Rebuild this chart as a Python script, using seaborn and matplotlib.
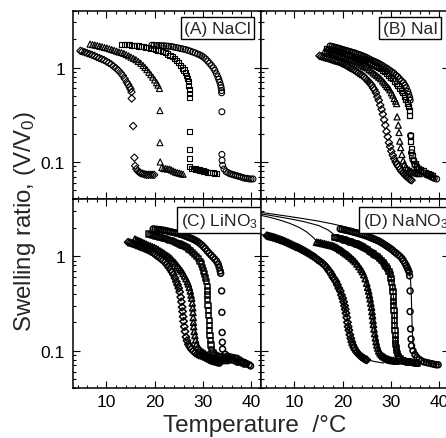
import matplotlib
matplotlib.use("Agg")
import numpy as np
import matplotlib.pyplot as plt
import seaborn as sns
from matplotlib.ticker import (FixedLocator, MultipleLocator, LogLocator,
                               FuncFormatter, NullFormatter)

# ---------------- (A) NaCl ----------------
nacl_dia_T = [4.6, 5.0, 5.5, 6.0, 6.5, 7.0, 7.5, 8.0, 8.5, 9.0, 9.5, 10.0, 10.5, 11.0, 11.5,
              12.0, 12.5, 13.0, 13.4, 13.8, 14.2, 14.5, 14.8, 15.0, 15.2,
              15.25, 15.55, 15.8, 15.95, 16.2, 16.5, 16.8, 17.1, 17.5, 17.9, 18.3, 18.7,
              19.1, 19.5, 19.9]
nacl_dia_V = [1.50, 1.48, 1.45, 1.42, 1.39, 1.36, 1.33, 1.29, 1.26, 1.23, 1.20, 1.16, 1.12, 1.08, 1.03,
              0.98, 0.93, 0.87, 0.82, 0.76, 0.70, 0.66, 0.62, 0.59, 0.55,
              0.47, 0.24, 0.111, 0.091, 0.084, 0.080, 0.078, 0.076, 0.075, 0.074, 0.073, 0.073,
              0.073, 0.073, 0.073]

nacl_tri_T = [6.6, 7.1, 7.6, 8.1, 8.6, 9.1, 9.6, 10.1, 10.6, 11.1, 11.6, 12.1, 12.6, 13.1, 13.6,
              14.1, 14.6, 15.1, 15.6, 16.1, 16.6, 17.1, 17.6, 18.0, 18.4, 18.8, 19.2, 19.6,
              20.0, 20.4, 20.7, 21.0,
              21.1, 21.1, 21.15, 21.5, 21.9, 22.3, 22.7, 23.1, 23.5, 23.9, 24.3, 24.7, 25.1,
              25.5, 25.9]
nacl_tri_V = [1.77, 1.75, 1.73, 1.71, 1.68, 1.66, 1.63, 1.61, 1.58, 1.55, 1.52, 1.49, 1.46, 1.44, 1.41,
              1.37, 1.33, 1.29, 1.25, 1.21, 1.16, 1.11, 1.05, 1.00, 0.95, 0.89, 0.84, 0.79,
              0.74, 0.69, 0.65, 0.60,
              0.35, 0.16, 0.10, 0.087, 0.085, 0.085, 0.084, 0.084, 0.082, 0.080, 0.078, 0.077, 0.076,
              0.075, 0.074]

nacl_sq_T = [13.2, 13.7, 14.2, 14.7, 15.2, 15.7, 16.2, 16.7, 17.2, 17.7, 18.2, 18.7, 19.2, 19.7,
             20.2, 20.7, 21.2, 21.7, 22.2, 22.7, 23.2, 23.7, 24.2, 24.6, 25.0, 25.4, 25.8, 26.1,
             26.4, 26.6, 26.8, 27.0, 27.1, 27.15, 27.2, 27.2,
             27.25, 27.25, 27.25, 27.3, 27.7, 28.1, 28.5, 28.9, 29.3, 29.7, 30.1, 30.5, 30.9,
             31.3, 31.7, 32.1, 32.5, 32.9]
nacl_sq_V = [1.77, 1.76, 1.75, 1.74, 1.72, 1.71, 1.70, 1.69, 1.68, 1.66, 1.64, 1.62, 1.60, 1.58,
             1.56, 1.53, 1.50, 1.47, 1.43, 1.39, 1.35, 1.30, 1.24, 1.18, 1.13, 1.06, 0.99, 0.94,
             0.88, 0.83, 0.77, 0.71, 0.65, 0.59, 0.53, 0.48,
             0.21, 0.136, 0.109, 0.090, 0.086, 0.085, 0.084, 0.083, 0.082, 0.081, 0.080, 0.079, 0.078,
             0.078, 0.077, 0.077, 0.076, 0.076]

nacl_ci_T = [19.4, 19.9, 20.4, 20.9, 21.4, 21.9, 22.4, 22.9, 23.4, 23.9, 24.4, 24.9, 25.4, 25.9,
             26.4, 26.9, 27.4, 27.9, 28.4, 28.9, 29.4, 29.8, 30.2, 30.6, 31.0, 31.4, 31.8, 32.2,
             32.5, 32.8, 33.1, 33.3, 33.5, 33.7, 33.8, 33.9, 33.9,
             33.95, 33.95, 34.0, 34.1, 34.4, 34.8, 35.2, 35.6, 36.0, 36.4, 36.8, 37.2, 37.6,
             38.0, 38.4, 38.8, 39.2, 39.6, 40.0, 40.4]
nacl_ci_V = [1.72, 1.72, 1.71, 1.71, 1.70, 1.70, 1.69, 1.68, 1.67, 1.65, 1.63, 1.61, 1.59, 1.57,
             1.55, 1.52, 1.49, 1.46, 1.43, 1.39, 1.36, 1.32, 1.28, 1.23, 1.17, 1.11, 1.05, 0.99,
             0.93, 0.86, 0.80, 0.75, 0.70, 0.65, 0.61, 0.57, 0.54,
             0.34, 0.12, 0.104, 0.092, 0.084, 0.079, 0.077, 0.075, 0.074, 0.073, 0.072, 0.071, 0.070,
             0.069, 0.068, 0.067, 0.067, 0.066, 0.066, 0.066]

# ---------------- (B) NaI ----------------
nai_dia_T = [15.2, 15.6, 16.0, 16.4, 16.8, 17.2, 17.6, 18.0, 18.4, 18.8, 19.2, 19.6, 20.0, 20.4,
             20.8, 21.2, 21.6, 22.0, 22.4, 22.8, 23.2, 23.6, 24.0, 24.4, 24.8, 25.1, 25.4, 25.7,
             26.0, 26.3, 26.6, 26.9, 27.2, 27.5, 27.8, 28.1, 28.35, 28.6, 28.85, 29.1, 29.35,
             29.6, 29.85, 30.1, 30.4, 30.7, 31.0, 31.3, 31.6, 31.9, 32.2, 32.5, 32.8, 33.1,
             33.4, 33.7, 34.0, 34.3]
nai_dia_V = [1.33, 1.31, 1.29, 1.27, 1.26, 1.24, 1.22, 1.20, 1.18, 1.17, 1.15, 1.13, 1.10, 1.08,
             1.05, 1.02, 0.99, 0.97, 0.94, 0.91, 0.88, 0.85, 0.83, 0.80, 0.76, 0.73, 0.71, 0.68,
             0.65, 0.61, 0.58, 0.54, 0.49, 0.45, 0.40, 0.36, 0.32, 0.28, 0.245, 0.21, 0.185,
             0.16, 0.145, 0.13, 0.118, 0.108, 0.100, 0.094, 0.089, 0.084, 0.080, 0.077, 0.074, 0.071,
             0.069, 0.067, 0.065, 0.064]

nai_tri_T = [16.3, 16.7, 17.1, 17.5, 17.9, 18.3, 18.7, 19.1, 19.5, 19.9, 20.3, 20.7, 21.1, 21.5,
             21.9, 22.3, 22.7, 23.1, 23.5, 23.9, 24.3, 24.7, 25.1, 25.5, 25.9, 26.3, 26.7, 27.1,
             27.5, 27.9, 28.3, 28.6, 28.9, 29.2, 29.5, 29.8, 30.1, 30.4, 30.7, 31.0, 31.2,
             31.3, 31.55, 31.7, 31.85, 32.05, 32.3, 32.55, 32.8, 33.1, 33.4, 33.8, 34.2, 34.6,
             35.0, 35.4, 35.8]
nai_tri_V = [1.50, 1.48, 1.46, 1.44, 1.42, 1.40, 1.37, 1.35, 1.33, 1.31, 1.29, 1.27, 1.25, 1.23,
             1.20, 1.18, 1.15, 1.12, 1.09, 1.06, 1.03, 1.01, 0.99, 0.95, 0.92, 0.88, 0.85, 0.82,
             0.79, 0.76, 0.72, 0.69, 0.66, 0.63, 0.61, 0.58, 0.54, 0.51, 0.47, 0.44, 0.415,
             0.30, 0.245, 0.205, 0.166, 0.142, 0.120, 0.103, 0.094, 0.088, 0.085, 0.082, 0.080, 0.078,
             0.077, 0.076, 0.075]

nai_sq_T = [16.7, 17.1, 17.5, 17.9, 18.3, 18.7, 19.1, 19.5, 19.9, 20.3, 20.7, 21.1, 21.5, 21.9,
            22.3, 22.7, 23.1, 23.5, 23.9, 24.3, 24.7, 25.1, 25.5, 25.9, 26.3, 26.7, 27.1, 27.5,
            27.9, 28.3, 28.7, 29.1, 29.5, 29.9, 30.3, 30.7, 31.1, 31.5, 31.9, 32.2, 32.5, 32.8,
            33.1, 33.4, 33.6, 33.8, 33.9,
            34.0, 34.1, 34.3, 34.4, 34.7, 35.0, 35.4, 35.8, 36.2, 36.7, 37.2, 37.7, 38.2, 38.7]
nai_sq_V = [1.60, 1.58, 1.56, 1.54, 1.52, 1.50, 1.48, 1.46, 1.44, 1.42, 1.40, 1.38, 1.36, 1.34,
            1.32, 1.30, 1.28, 1.25, 1.23, 1.20, 1.18, 1.15, 1.13, 1.10, 1.08, 1.06, 1.03, 1.00,
            0.97, 0.94, 0.90, 0.86, 0.83, 0.79, 0.76, 0.72, 0.68, 0.64, 0.60, 0.57, 0.54, 0.50,
            0.46, 0.42, 0.39, 0.35, 0.31,
            0.19, 0.165, 0.137, 0.116, 0.104, 0.096, 0.090, 0.085, 0.082, 0.080, 0.077, 0.075, 0.073, 0.071]

nai_ci_T = [17.4, 17.8, 18.2, 18.6, 19.0, 19.4, 19.8, 20.2, 20.6, 21.0, 21.4, 21.8, 22.2, 22.6,
            23.0, 23.4, 23.8, 24.2, 24.6, 25.0, 25.4, 25.8, 26.2, 26.6, 27.0, 27.4, 27.8, 28.2,
            28.6, 29.0, 29.4, 29.8, 30.2, 30.6, 31.0, 31.4, 31.8, 32.2, 32.6, 32.9, 33.2, 33.5,
            33.7, 33.9, 34.0,
            34.1, 34.3, 34.6, 35.0, 35.6, 36.2, 36.8, 37.4, 38.0, 38.5, 39.0, 39.5]
nai_ci_V = [1.69, 1.67, 1.65, 1.63, 1.61, 1.59, 1.56, 1.54, 1.52, 1.50, 1.48, 1.46, 1.44, 1.42,
            1.39, 1.37, 1.35, 1.32, 1.30, 1.27, 1.24, 1.21, 1.18, 1.16, 1.13, 1.11, 1.08, 1.05,
            1.02, 0.99, 0.96, 0.93, 0.90, 0.87, 0.83, 0.80, 0.76, 0.72, 0.69, 0.65, 0.61, 0.56,
            0.52, 0.48, 0.45,
            0.19, 0.125, 0.105, 0.093, 0.085, 0.080, 0.076, 0.073, 0.071, 0.069, 0.067, 0.066]

# ---------------- (C) LiNO3 ----------------
lino3_dia_T = [14.5, 14.9, 15.3, 15.7, 16.1, 16.5, 16.9, 17.3, 17.7, 18.1, 18.5, 18.9, 19.3, 19.7,
               20.1, 20.5, 20.9, 21.3, 21.7, 22.1, 22.5, 22.9, 23.3, 23.6, 23.9, 24.2, 24.5, 24.75,
               25.0, 25.2, 25.4, 25.55, 25.7, 25.8, 25.9, 26.0, 26.15, 26.3, 26.5, 26.7, 27.0,
               27.3, 27.6, 28.0, 28.4, 28.8, 29.2, 29.6, 30.0, 30.4, 30.8, 31.2, 31.6, 32.0,
               32.4, 32.8, 33.2, 33.6]
lino3_dia_V = [1.41, 1.39, 1.37, 1.35, 1.32, 1.30, 1.27, 1.25, 1.23, 1.20, 1.18, 1.15, 1.12, 1.09,
               1.05, 1.01, 0.98, 0.94, 0.91, 0.87, 0.82, 0.77, 0.72, 0.68, 0.64, 0.59, 0.54, 0.50,
               0.46, 0.42, 0.37, 0.33, 0.29, 0.26, 0.23, 0.205, 0.18, 0.16, 0.14, 0.128, 0.117,
               0.110, 0.104, 0.099, 0.095, 0.092, 0.090, 0.089, 0.087, 0.085, 0.083, 0.081, 0.079, 0.078,
               0.077, 0.076, 0.075, 0.075]

lino3_tri_T = [15.9, 16.3, 16.7, 17.1, 17.5, 17.9, 18.3, 18.7, 19.1, 19.5, 19.9, 20.3, 20.7, 21.1,
               21.5, 21.9, 22.3, 22.7, 23.1, 23.5, 23.9, 24.3, 24.7, 25.0, 25.3, 25.6, 25.9, 26.2,
               26.5, 26.8, 27.0, 27.2, 27.4, 27.55, 27.7, 27.8, 27.9, 27.95, 28.0, 28.05, 28.1,
               28.2, 28.35, 28.5, 28.7, 29.0, 29.3, 29.7, 30.1, 30.5, 31.0, 31.5, 32.0, 32.5,
               33.0, 33.5, 34.0, 34.5, 34.9]
lino3_tri_V = [1.52, 1.49, 1.46, 1.43, 1.40, 1.37, 1.34, 1.31, 1.29, 1.26, 1.24, 1.21, 1.18, 1.14,
               1.11, 1.08, 1.04, 1.01, 0.98, 0.94, 0.89, 0.85, 0.80, 0.76, 0.73, 0.70, 0.66, 0.62,
               0.58, 0.54, 0.51, 0.47, 0.43, 0.39, 0.36, 0.32, 0.285, 0.255, 0.225, 0.20, 0.18,
               0.16, 0.145, 0.13, 0.118, 0.110, 0.104, 0.099, 0.096, 0.093, 0.090, 0.087, 0.085, 0.083,
               0.082, 0.081, 0.080, 0.079, 0.079]

lino3_sq_T = [18.7, 19.1, 19.5, 19.9, 20.3, 20.7, 21.1, 21.5, 21.9, 22.3, 22.7, 23.1, 23.5, 23.9,
              24.3, 24.7, 25.1, 25.5, 25.9, 26.3, 26.7, 27.1, 27.5, 27.9, 28.3, 28.7, 29.1, 29.4,
              29.7, 30.0, 30.2, 30.4, 30.6, 30.75, 30.9, 30.95, 31.0, 31.0, 31.05, 31.1, 31.2,
              31.3, 31.35, 31.4, 31.5, 31.6, 31.7, 31.8, 32.1, 32.5, 32.9, 33.4, 33.9, 34.4,
              34.9, 35.4, 35.9, 36.4, 36.9, 37.4, 37.9, 38.4, 38.9]
lino3_sq_V = [1.72, 1.70, 1.68, 1.66, 1.64, 1.61, 1.59, 1.57, 1.55, 1.53, 1.51, 1.48, 1.46, 1.43,
              1.41, 1.38, 1.35, 1.32, 1.29, 1.26, 1.23, 1.19, 1.15, 1.10, 1.05, 1.00, 0.94, 0.89,
              0.83, 0.76, 0.70, 0.65, 0.59, 0.54, 0.48, 0.43, 0.39, 0.35, 0.30, 0.265, 0.235,
              0.21, 0.185, 0.163, 0.145, 0.128, 0.115, 0.104, 0.096, 0.091, 0.089, 0.087, 0.086, 0.084,
              0.083, 0.082, 0.080, 0.079, 0.077, 0.076, 0.075, 0.074, 0.072]

lino3_ci_T = [19.7, 20.1, 20.5, 20.9, 21.3, 21.7, 22.1, 22.5, 22.9, 23.3, 23.7, 24.1, 24.5, 24.9,
              25.3, 25.7, 26.1, 26.5, 26.9, 27.3, 27.7, 28.1, 28.5, 28.9, 29.3, 29.7, 30.1, 30.5,
              30.9, 31.3, 31.7, 32.1, 32.5, 32.9, 33.2, 33.4, 33.6, 33.7,
              33.9, 33.95, 34.0, 34.05, 34.1, 34.6, 35.1, 35.6, 36.1, 36.6, 37.1, 37.6, 38.1,
              38.6, 39.1, 39.6, 39.9]
lino3_ci_V = [1.95, 1.94, 1.93, 1.92, 1.91, 1.89, 1.88, 1.86, 1.84, 1.82, 1.80, 1.78, 1.76, 1.74,
              1.71, 1.69, 1.66, 1.63, 1.60, 1.57, 1.54, 1.51, 1.47, 1.43, 1.38, 1.33, 1.27, 1.21,
              1.14, 1.08, 1.03, 0.98, 0.93, 0.88, 0.82, 0.76, 0.70, 0.66,
              0.43, 0.255, 0.156, 0.123, 0.104, 0.092, 0.088, 0.086, 0.085, 0.084, 0.083, 0.080, 0.077,
              0.075, 0.073, 0.071, 0.069]

# ---------------- (D) NaNO3 ----------------
nano3_dia_T = [4.3, 4.7, 5.1, 5.5, 5.9, 6.3, 6.7, 7.1, 7.5, 7.9, 8.3, 8.7, 9.1, 9.5, 9.9, 10.3,
               10.7, 11.1, 11.5, 11.9, 12.3, 12.7, 13.1, 13.5, 13.9, 14.3, 14.7, 15.1, 15.5, 15.9,
               16.3, 16.7, 17.1, 17.4, 17.7, 18.0, 18.3, 18.6, 18.9, 19.2, 19.5, 19.75, 20.0,
               20.2, 20.4, 20.55, 20.7, 20.85, 21.0, 21.15, 21.3, 21.5, 21.7, 21.9, 22.1, 22.35,
               22.6, 22.9, 23.2, 23.5, 23.8, 24.1, 24.4, 24.7, 25.0]
nano3_dia_V = [1.65, 1.63, 1.61, 1.59, 1.57, 1.54, 1.52, 1.49, 1.47, 1.44, 1.41, 1.38, 1.35, 1.32,
               1.29, 1.26, 1.24, 1.21, 1.18, 1.15, 1.12, 1.09, 1.06, 1.03, 1.00, 0.97, 0.93, 0.90,
               0.87, 0.84, 0.80, 0.76, 0.71, 0.68, 0.64, 0.60, 0.57, 0.54, 0.50, 0.46, 0.43, 0.39,
               0.36, 0.33, 0.30, 0.275, 0.25, 0.225, 0.20, 0.18, 0.165, 0.148, 0.135, 0.124, 0.115,
               0.108, 0.102, 0.097, 0.093, 0.090, 0.087, 0.085, 0.083, 0.081, 0.080]

nano3_tri_T = [14.6, 15.0, 15.4, 15.8, 16.2, 16.6, 17.0, 17.4, 17.8, 18.2, 18.6, 19.0, 19.4, 19.8,
               20.2, 20.6, 21.0, 21.4, 21.8, 22.2, 22.6, 23.0, 23.4, 23.8, 24.1, 24.4, 24.7, 25.0,
               25.2, 25.4, 25.55, 25.7, 25.85, 26.0, 26.1, 26.2, 26.3, 26.4, 26.5, 26.65, 26.8,
               26.95, 27.1, 27.3, 27.5, 27.75, 28.0, 28.3, 28.6, 28.9, 29.2, 29.5, 29.8, 30.1,
               30.5, 30.9, 31.2]
nano3_tri_V = [1.41, 1.40, 1.39, 1.37, 1.36, 1.34, 1.33, 1.31, 1.30, 1.28, 1.25, 1.22, 1.18, 1.15,
               1.11, 1.07, 1.04, 1.00, 0.96, 0.92, 0.88, 0.83, 0.78, 0.73, 0.69, 0.64, 0.58, 0.52,
               0.47, 0.43, 0.39, 0.355, 0.32, 0.29, 0.26, 0.235, 0.21, 0.19, 0.17, 0.152, 0.137,
               0.125, 0.115, 0.107, 0.100, 0.095, 0.091, 0.088, 0.086, 0.084, 0.082, 0.081, 0.080, 0.079,
               0.079, 0.078, 0.078]

nano3_sq_T = [18.4, 18.8, 19.2, 19.6, 20.0, 20.4, 20.8, 21.2, 21.6, 22.0, 22.4, 22.8, 23.2, 23.6,
              24.0, 24.4, 24.8, 25.2, 25.6, 26.0, 26.4, 26.8, 27.2, 27.6, 28.0, 28.4, 28.7, 29.0,
              29.3, 29.6, 29.85, 30.05, 30.2, 30.35, 30.45, 30.5, 30.55, 30.6, 30.65, 30.7, 30.75,
              30.8, 30.85, 30.9, 31.0, 31.05, 31.15, 31.25, 31.4, 31.6, 31.9, 32.3, 32.7, 33.1,
              33.5, 33.9, 34.3, 34.7, 35.1, 35.5]
nano3_sq_V = [1.59, 1.57, 1.55, 1.53, 1.51, 1.49, 1.46, 1.44, 1.42, 1.40, 1.38, 1.35, 1.33, 1.30,
              1.27, 1.24, 1.21, 1.17, 1.13, 1.10, 1.06, 1.03, 0.99, 0.95, 0.90, 0.86, 0.82, 0.78,
              0.74, 0.69, 0.64, 0.58, 0.53, 0.47, 0.42, 0.37, 0.33, 0.30, 0.265, 0.235, 0.21,
              0.185, 0.165, 0.145, 0.13, 0.118, 0.108, 0.100, 0.093, 0.087, 0.082, 0.079, 0.078, 0.077,
              0.076, 0.076, 0.075, 0.075, 0.074, 0.073]

nano3_ci_T = [19.5, 19.9, 20.3, 20.7, 21.1, 21.5, 21.9, 22.3, 22.7, 23.1, 23.5, 23.9, 24.3, 24.7,
              25.1, 25.5, 25.9, 26.3, 26.7, 27.1, 27.5, 27.9, 28.3, 28.7, 29.1, 29.5, 29.9, 30.3,
              30.7, 31.1, 31.5, 31.9, 32.3, 32.6, 32.9, 33.2, 33.4, 33.6, 33.8, 33.9,
              34.0, 34.0, 34.1, 34.2, 34.3, 34.6, 35.0, 35.4, 35.9, 36.4, 36.9, 37.4, 37.9,
              38.4, 38.9, 39.4, 39.8]
nano3_ci_V = [1.95, 1.93, 1.91, 1.89, 1.87, 1.85, 1.83, 1.80, 1.78, 1.76, 1.73, 1.71, 1.68, 1.66,
              1.63, 1.60, 1.57, 1.54, 1.51, 1.48, 1.45, 1.41, 1.37, 1.33, 1.29, 1.25, 1.21, 1.17,
              1.12, 1.08, 1.04, 1.00, 0.95, 0.90, 0.85, 0.80, 0.76, 0.72, 0.68, 0.62,
              0.43, 0.26, 0.17, 0.133, 0.113, 0.100, 0.091, 0.085, 0.081, 0.078, 0.076, 0.075, 0.074,
              0.073, 0.072, 0.071, 0.071]

# model curves drawn through the NaNO3 data
nano3_fit_ci_T = [3, 6, 9, 12, 15, 18, 20, 22, 24, 26, 28, 30, 31.5, 32.5, 33.3, 33.8, 34.1,
                  34.25, 34.35, 34.45, 34.6, 34.9, 35.5, 36.5, 38, 40]
nano3_fit_ci_V = [2.92, 2.78, 2.64, 2.50, 2.36, 2.20, 2.08, 1.95, 1.82, 1.68, 1.52, 1.31, 1.13,
                  0.99, 0.85, 0.72, 0.55, 0.38, 0.24, 0.16, 0.12, 0.10, 0.088, 0.080, 0.075, 0.071]
nano3_fit_sq_T = [3, 6, 9, 12, 15, 17, 18.5, 20, 22, 24, 26, 28, 29.3, 30.0, 30.4, 30.6, 30.75,
                  30.9, 31.1, 31.4, 31.9, 32.6, 34, 36]
nano3_fit_sq_V = [2.82, 2.66, 2.50, 2.33, 2.12, 1.90, 1.66, 1.52, 1.41, 1.28, 1.12, 0.92, 0.76,
                  0.61, 0.47, 0.34, 0.22, 0.15, 0.115, 0.095, 0.085, 0.079, 0.075, 0.072]
nano3_fit_tri_T = [3, 5, 7, 9, 11, 12.5, 13.8, 14.8, 17, 19, 21, 23, 24.5, 25.3, 25.8, 26.2,
                   26.5, 26.9, 27.4, 28.2, 29.5, 31.5]
nano3_fit_tri_V = [2.72, 2.58, 2.42, 2.24, 2.02, 1.82, 1.60, 1.42, 1.32, 1.20, 1.05, 0.84, 0.62,
                   0.45, 0.33, 0.24, 0.18, 0.13, 0.105, 0.090, 0.081, 0.077]
nano3_fit_dia_T = [3, 5, 8, 11, 14, 16, 17.5, 18.7, 19.6, 20.3, 20.9, 21.4, 22.0, 23.0, 24.5,
                   26.5, 28.5]
nano3_fit_dia_V = [1.72, 1.61, 1.42, 1.20, 0.99, 0.85, 0.69, 0.55, 0.43, 0.33, 0.24, 0.17, 0.125,
                   0.097, 0.083, 0.077, 0.074]

panel_labels = ["(A) NaCl", "(B) NaI", "(C) LiNO$_3$", "(D) NaNO$_3$"]
x_ticks = [10, 20, 30, 40]

# ---------------- styling ----------------
sns.set_theme(style="ticks")
plt.rcParams["font.family"] = ["Liberation Sans", "DejaVu Sans"]
plt.rcParams.update({
    "mathtext.fontset": "custom",
    "mathtext.rm": "Liberation Sans",
    "mathtext.it": "Liberation Sans:italic",
    "mathtext.bf": "Liberation Sans:bold",
    "axes.linewidth": 1.1,
    "axes.edgecolor": "black",
    "xtick.color": "black",
    "ytick.color": "black",
})

fig = plt.figure(figsize=(4.46, 4.39), dpi=100)
W, H = 0.4215, 0.4301
ax_a = fig.add_axes([0.1630, 0.5433, W, H])
ax_b = fig.add_axes([0.5845, 0.5433, W, H])
ax_c = fig.add_axes([0.1630, 0.1132, W, H])
ax_d = fig.add_axes([0.5845, 0.1132, W, H])
axes = [ax_a, ax_b, ax_c, ax_d]

SIZES = {"D": 14, "^": 19, "s": 14, "o": 18}


def dots(ax, T, V, marker, lw=0.9):
    sns.scatterplot(x=T, y=V, ax=ax, marker=marker, s=SIZES[marker], facecolor="none",
                    edgecolor="black", linewidth=lw, legend=False, zorder=3)


def fit(ax, T, V):
    sns.lineplot(x=T, y=V, ax=ax, color="black", linewidth=0.8, sort=False,
                 estimator=None, zorder=4)


dots(ax_a, nacl_dia_T, nacl_dia_V, "D", 0.8)
dots(ax_a, nacl_tri_T, nacl_tri_V, "^", 0.8)
dots(ax_a, nacl_sq_T, nacl_sq_V, "s", 0.8)
dots(ax_a, nacl_ci_T, nacl_ci_V, "o", 0.8)

dots(ax_b, nai_dia_T, nai_dia_V, "D")
dots(ax_b, nai_tri_T, nai_tri_V, "^")
dots(ax_b, nai_sq_T, nai_sq_V, "s")
dots(ax_b, nai_ci_T, nai_ci_V, "o")

dots(ax_c, lino3_dia_T, lino3_dia_V, "D", 1.1)
dots(ax_c, lino3_tri_T, lino3_tri_V, "^", 1.1)
dots(ax_c, lino3_sq_T, lino3_sq_V, "s", 1.1)
dots(ax_c, lino3_ci_T, lino3_ci_V, "o", 1.1)

dots(ax_d, nano3_dia_T, nano3_dia_V, "D", 1.2)
dots(ax_d, nano3_tri_T, nano3_tri_V, "^", 1.2)
dots(ax_d, nano3_sq_T, nano3_sq_V, "s", 1.2)
dots(ax_d, nano3_ci_T, nano3_ci_V, "o", 1.1)
fit(ax_d, nano3_fit_ci_T, nano3_fit_ci_V)
fit(ax_d, nano3_fit_sq_T, nano3_fit_sq_V)
fit(ax_d, nano3_fit_tri_T, nano3_fit_tri_V)
fit(ax_d, nano3_fit_dia_T, nano3_fit_dia_V)

for i, ax in enumerate(axes):
    ax.set_yscale("log")
    ax.set_xlim(3, 42)
    ax.set_ylim(0.04, 4)
    ax.xaxis.set_major_locator(FixedLocator(x_ticks))
    ax.xaxis.set_minor_locator(MultipleLocator(2))
    ax.yaxis.set_major_locator(LogLocator(base=10, numticks=10))
    ax.yaxis.set_minor_locator(LogLocator(base=10, subs=np.arange(2, 10), numticks=10))
    ax.yaxis.set_major_formatter(FuncFormatter(lambda v, p: f"{v:g}"))
    ax.yaxis.set_minor_formatter(NullFormatter())
    ax.tick_params(which="both", direction="in", top=True, right=True, width=0.8,
                   labelsize=12.5, colors="black")
    ax.tick_params(which="major", length=4.8)
    ax.tick_params(which="minor", length=2.4)
    ax.tick_params(axis="y", pad=5.5)
    ax.tick_params(axis="x", pad=3.8)
    ax.set_xlabel("")
    ax.set_ylabel("")
    ax.tick_params(labelleft=(i % 2 == 0), labelbottom=(i >= 2))
    for sp in ax.spines.values():
        sp.set_visible(True)
        sp.set_linewidth(1.1)

# boxed panel tags
tag_pos = [(0.593, 0.947), (0.649, 0.947), (0.575, 0.941), (0.543, 0.941)]
for ax, lab, (tx, ty) in zip(axes, panel_labels, tag_pos):
    ax.text(tx, ty, lab, transform=ax.transAxes, ha="left", va="top", fontsize=12.5,
            zorder=6, clip_on=False,
            bbox=dict(boxstyle="square,pad=0.2", facecolor="white", edgecolor="black",
                      linewidth=1.0))

fig.text(0.570, 0.016, "Temperature  /\u00b0C", ha="center", va="baseline", fontsize=17.5)
fig.text(0.055, 0.496, "Swelling ratio, (V/V$_0$)", ha="center", va="center",
         rotation=90, fontsize=17.3)

fig.savefig("out.png", dpi=100)
